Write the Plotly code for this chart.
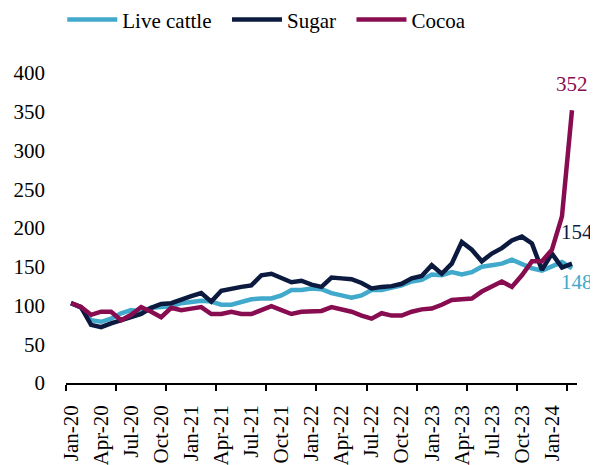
import pandas as pd
import plotly.graph_objects as go

months = list(pd.date_range("2020-01-01", periods=51, freq="MS").strftime("%b-%y"))

live_cattle = [103, 97, 81, 79, 83, 90, 94, 92, 97, 98, 99, 103, 105, 106, 105, 101, 101,
               105, 108, 109, 109, 113, 120, 120, 122, 121, 116, 113, 110, 113, 120, 120,
               123, 126, 131, 133, 140, 139, 143, 140, 143, 150, 152, 154, 159, 154, 148,
               145, 150, 156, 148]
sugar = [103, 98, 75, 72, 77, 81, 84, 89, 97, 102, 103, 108, 112, 116, 105, 119, 122,
         124, 126, 139, 141, 135, 130, 132, 127, 124, 136, 135, 134, 129, 122, 124,
         125, 128, 135, 138, 152, 141, 154, 182, 172, 157, 167, 174, 184, 189, 180,
         146, 167, 149, 154]
cocoa = [103, 98, 88, 92, 92, 81, 88, 98, 92, 85, 97, 94, 96, 98, 89, 89, 92,
         89, 89, 94, 99, 94, 89, 92, 93, 93, 98, 95, 92, 87, 83, 90,
         87, 87, 92, 95, 96, 101, 107, 108, 109, 118, 124, 131, 124, 139, 157,
         157, 172, 215, 352]

series = [("Live cattle", live_cattle, "#41A9CB", 2),
          ("Sugar", sugar, "#0B1A3E", 2),
          ("Cocoa", cocoa, "#880C50", 0)]

tick_labels = months[::3]
x = list(range(len(months)))
tick_vals = x[::3]
minor_vals = [v - 0.5 for v in x[::5]] + [x[-1] - 0.5]

FONT = "Liberation Serif"

fig = go.Figure()
for name, vals, col, pad in series:
    fig.add_trace(go.Scatter(x=x, y=vals, name=name + "\u00a0" * pad, mode="lines",
                             line=dict(color=col, width=4.5)))

# end labels
fig.add_annotation(x=x[-1], y=cocoa[-1], text=str(cocoa[-1]), showarrow=False,
                   xanchor="center", yanchor="bottom", yshift=12,
                   font=dict(color="#880C50", size=21, family=FONT))
fig.add_annotation(x=x[-1], y=sugar[-1], text=str(sugar[-1]), showarrow=False,
                   xanchor="left", yanchor="bottom", xshift=-13, yshift=18,
                   font=dict(color="#0B1A3E", size=21, family=FONT))
fig.add_annotation(x=x[-1], y=live_cattle[-1], text=str(live_cattle[-1]), showarrow=False,
                   xanchor="left", yanchor="top", xshift=-13, yshift=0,
                   font=dict(color="#41A9CB", size=21, family=FONT))

# the page body adds an 8px offset, so the figure is 8px smaller each way
fig.update_layout(
    width=590, height=457,
    margin=dict(l=58, r=21, t=65, b=82, autoexpand=False),
    paper_bgcolor="white", plot_bgcolor="white",
    font=dict(family=FONT, size=21, color="black"),
    showlegend=True,
    legend=dict(orientation="h", xref="container", x=0.092, xanchor="left",
                yref="container", y=0.974, yanchor="middle",
                font=dict(size=21, family=FONT), itemwidth=50, tracegroupgap=0),
    xaxis=dict(range=[-0.5, len(months) - 0.5], tickvals=tick_vals, ticktext=tick_labels,
               tickangle=-90, showgrid=False, zeroline=False, automargin=False,
               showline=True, linecolor="black", linewidth=1.5,
               ticks="", ticklabelstandoff=12,
               minor=dict(tickvals=minor_vals, ticks="outside", ticklen=6,
                          tickcolor="black", tickwidth=1.5)),
    yaxis=dict(range=[0, 400], dtick=50, showgrid=False, zeroline=False, automargin=False,
               showline=False, ticks="", ticklabelstandoff=20),
)

fig.write_html("out.html")
